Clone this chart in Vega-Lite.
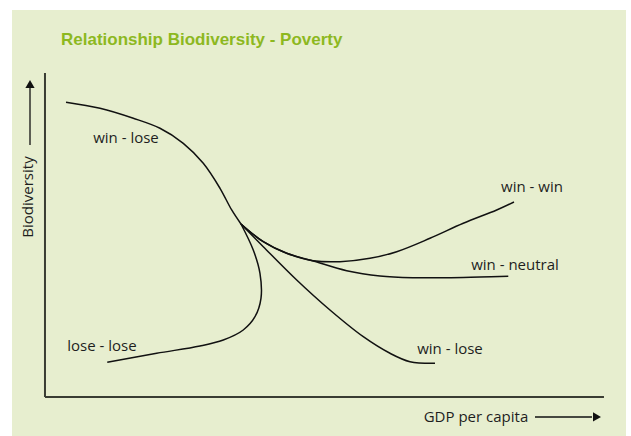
{
  "$schema": "https://vega.github.io/schema/vega-lite/v6.json",
  "width": 614,
  "height": 426,
  "autosize": {"type": "none"},
  "padding": {"left": 12, "top": 10, "right": 5, "bottom": 0},
  "background": "#ffffff",
  "config": {"view": {"fill": "#e7eecf", "stroke": null}},
  "datasets": {
    "curves": [
      {"series": "upper", "o": 1, "x": 3.76, "y": 90.96},
      {"series": "upper", "o": 2, "x": 9.84, "y": 89.10},
      {"series": "upper", "o": 3, "x": 15.80, "y": 86.02},
      {"series": "upper", "o": 4, "x": 20.57, "y": 82.93},
      {"series": "upper", "o": 5, "x": 24.74, "y": 78.30},
      {"series": "upper", "o": 6, "x": 28.32, "y": 72.13},
      {"series": "upper", "o": 7, "x": 31.31, "y": 64.41},
      {"series": "upper", "o": 8, "x": 33.40, "y": 57.72},
      {"series": "upper", "o": 9, "x": 35.06, "y": 53.40},
      {"series": "loselose", "o": 1, "x": 35.06, "y": 53.40},
      {"series": "loselose", "o": 2, "x": 37.26, "y": 45.37},
      {"series": "loselose", "o": 3, "x": 38.46, "y": 38.18},
      {"series": "loselose", "o": 4, "x": 38.64, "y": 30.46},
      {"series": "loselose", "o": 5, "x": 37.57, "y": 24.78},
      {"series": "loselose", "o": 6, "x": 35.47, "y": 20.68},
      {"series": "loselose", "o": 7, "x": 31.90, "y": 17.59},
      {"series": "loselose", "o": 8, "x": 27.73, "y": 15.74},
      {"series": "loselose", "o": 9, "x": 19.98, "y": 13.49},
      {"series": "loselose", "o": 10, "x": 11.14, "y": 10.71},
      {"series": "winlose", "o": 1, "x": 35.06, "y": 53.40},
      {"series": "winlose", "o": 2, "x": 39.05, "y": 46.39},
      {"series": "winlose", "o": 3, "x": 45.03, "y": 36.11},
      {"series": "winlose", "o": 4, "x": 50.98, "y": 26.85},
      {"series": "winlose", "o": 5, "x": 56.94, "y": 18.61},
      {"series": "winlose", "o": 6, "x": 61.72, "y": 13.49},
      {"series": "winlose", "o": 7, "x": 65.30, "y": 10.90},
      {"series": "winlose", "o": 8, "x": 69.77, "y": 10.40},
      {"series": "winwin", "o": 1, "x": 35.06, "y": 53.40},
      {"series": "winwin", "o": 2, "x": 39.05, "y": 47.93},
      {"series": "winwin", "o": 3, "x": 43.24, "y": 44.35},
      {"series": "winwin", "o": 4, "x": 48.00, "y": 42.07},
      {"series": "winwin", "o": 5, "x": 52.77, "y": 41.76},
      {"series": "winwin", "o": 6, "x": 58.14, "y": 42.81},
      {"series": "winwin", "o": 7, "x": 62.92, "y": 44.85},
      {"series": "winwin", "o": 8, "x": 68.87, "y": 48.98},
      {"series": "winwin", "o": 9, "x": 74.83, "y": 53.61},
      {"series": "winwin", "o": 10, "x": 80.81, "y": 57.72},
      {"series": "winwin", "o": 11, "x": 83.90, "y": 60.19},
      {"series": "winneutral", "o": 1, "x": 35.06, "y": 53.40},
      {"series": "winneutral", "o": 2, "x": 39.05, "y": 47.93},
      {"series": "winneutral", "o": 3, "x": 43.24, "y": 44.35},
      {"series": "winneutral", "o": 4, "x": 48.00, "y": 41.98},
      {"series": "winneutral", "o": 5, "x": 53.97, "y": 38.98},
      {"series": "winneutral", "o": 6, "x": 59.93, "y": 37.35},
      {"series": "winneutral", "o": 7, "x": 65.89, "y": 36.82},
      {"series": "winneutral", "o": 8, "x": 71.86, "y": 36.82},
      {"series": "winneutral", "o": 9, "x": 77.82, "y": 37.04},
      {"series": "winneutral", "o": 10, "x": 82.88, "y": 37.25}
    ],
    "axes": [
      {"x": 0, "x2": 0, "y": 0, "y2": 100},
      {"x": 0, "x2": 100, "y": 0, "y2": 0}
    ],
    "arrows": [
      {"x": 87.66, "x2": 97.85, "y": -6.17, "y2": -6.17},
      {"x": -2.68, "x2": -2.68, "y": 77.78, "y2": 95.37}
    ],
    "heads": [
      {"x": 98.75, "y": -6.17, "shape": "triangle-right"},
      {"x": -2.68, "y": 96.60, "shape": "triangle-up"}
    ],
    "labels": [
      {"x": 14.49, "y": 79.94, "text": "win - lose"},
      {"x": 10.20, "y": 15.74, "text": "lose - lose"},
      {"x": 87.12, "y": 64.81, "text": "win - win"},
      {"x": 84.08, "y": 40.74, "text": "win - neutral"},
      {"x": 72.45, "y": 14.81, "text": "win - lose"},
      {"x": 77.10, "y": -6.17, "text": "GDP per capita"}
    ]
  },
  "layer": [
    {
      "data": {"name": "axes"},
      "mark": {"type": "rule", "stroke": "#3a3d33", "strokeWidth": 2},
      "encoding": {
        "x": {"field": "x", "type": "quantitative", "scale": {"domain": [-5.9, 103.94], "nice": false, "zero": false}, "axis": null},
        "x2": {"field": "x2"},
        "y": {"field": "y", "type": "quantitative", "scale": {"domain": [-12.04, 119.44], "nice": false, "zero": false}, "axis": null},
        "y2": {"field": "y2"}
      }
    },
    {
      "data": {"name": "arrows"},
      "mark": {"type": "rule", "stroke": "#111111", "strokeWidth": 1.3},
      "encoding": {
        "x": {"field": "x", "type": "quantitative"},
        "x2": {"field": "x2"},
        "y": {"field": "y", "type": "quantitative"},
        "y2": {"field": "y2"}
      }
    },
    {
      "data": {"name": "heads"},
      "mark": {"type": "point", "filled": true, "color": "#111111", "size": 85, "opacity": 1},
      "encoding": {
        "x": {"field": "x", "type": "quantitative"},
        "y": {"field": "y", "type": "quantitative"},
        "shape": {"field": "shape", "type": "nominal", "scale": null, "legend": null}
      }
    },
    {
      "data": {"name": "curves"},
      "mark": {"type": "line", "interpolate": "catmull-rom", "color": "#111111", "strokeWidth": 1.5},
      "encoding": {
        "x": {"field": "x", "type": "quantitative"},
        "y": {"field": "y", "type": "quantitative"},
        "detail": {"field": "series", "type": "nominal"},
        "order": {"field": "o", "type": "quantitative"}
      }
    },
    {
      "data": {"name": "labels"},
      "mark": {"type": "text", "font": "Open Sans", "fontSize": 15, "color": "#1e1e1e", "align": "center", "baseline": "middle"},
      "encoding": {
        "x": {"field": "x", "type": "quantitative"},
        "y": {"field": "y", "type": "quantitative"},
        "text": {"field": "text"}
      }
    },
    {
      "data": {"values": [{"x": -3.04, "y": 61.73, "text": "Biodiversity"}]},
      "mark": {"type": "text", "font": "Open Sans", "fontSize": 15, "color": "#1e1e1e", "align": "center", "baseline": "middle", "angle": 270},
      "encoding": {
        "x": {"field": "x", "type": "quantitative"},
        "y": {"field": "y", "type": "quantitative"},
        "text": {"field": "text"}
      }
    },
    {
      "data": {"values": [{"x": 2.86, "y": 110.19, "text": "Relationship Biodiversity - Poverty"}]},
      "mark": {"type": "text", "font": "Liberation Sans", "fontSize": 17, "fontWeight": "bold", "color": "#8db81f", "align": "left", "baseline": "middle"},
      "encoding": {
        "x": {"field": "x", "type": "quantitative"},
        "y": {"field": "y", "type": "quantitative"},
        "text": {"field": "text"}
      }
    }
  ]
}
